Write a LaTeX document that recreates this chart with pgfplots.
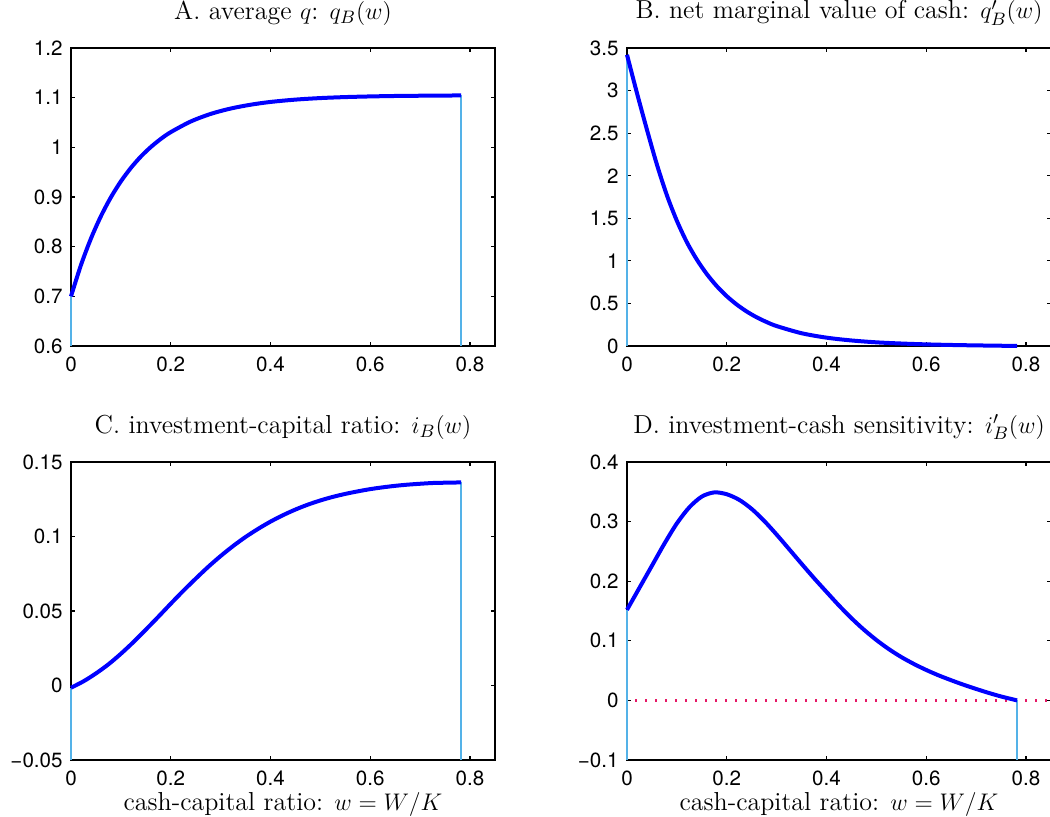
\documentclass[border=0pt]{standalone}
\usepackage{fontspec}
\usepackage{pgfplots}
\pgfplotsset{compat=1.18}
\newfontfamily\hv{TeX Gyre Heros}
\definecolor{mblue}{rgb}{0,0,1}
\definecolor{lblue}{rgb}{0.33,0.70,0.91}
\definecolor{mred}{rgb}{0.90,0.10,0.40}
\pgfplotsset{
  panel/.style={
    scale only axis, width=212pt, height=149pt,
    xmin=0, xmax=0.85,
    xtick={0,0.2,0.4,0.6,0.8}, xticklabels={0,0.2,0.4,0.6,0.8},
    tick align=inside, tick pos=both, major tick length=2.2pt,
    axis line style={line width=0.8pt},
    every tick/.style={black, line width=0.6pt},
    clip=false,
    tick label style={font=\hv\fontsize{10.3}{12}\selectfont, inner sep=0pt},
    xticklabel style={anchor=north, yshift=-5pt},
    yticklabel style={anchor=east, xshift=-4pt},
    title style={at={(axis description cs:0.5,1)}, anchor=base, yshift=8.5pt, inner sep=0pt, font=\fontsize{13}{15}\selectfont},
    xlabel style={at={(axis description cs:0.5,0)}, anchor=base, yshift=-25pt, inner sep=0pt, font=\fontsize{13}{15}\selectfont},
  },
  cur/.style={mblue, line width=2pt, smooth, no marks},
  vln/.style={lblue, line width=1pt, no marks},
}
\begin{document}
\begin{tikzpicture}
\useasboundingbox (0,0) rectangle (525pt,-408.5pt);
% A
\begin{axis}[panel, at={(35.5pt,-173pt)}, anchor=south west,
  ymin=0.6, ymax=1.2, ytick={0.6,0.7,0.8,0.9,1,1.1,1.2},
  yticklabels={0.6,0.7,0.8,0.9,1,1.1,1.2},
  title={A. average $q$: $q_B(w)$}]
\addplot[vln] coordinates {(0,0.6) (0,0.7)};
\addplot[vln] coordinates {(0.782,0.6) (0.782,1.1045)};
\addplot[cur] coordinates {
(0.00,0.7000) (0.02,0.7631) (0.04,0.8164) (0.06,0.8614) (0.08,0.8994)
(0.10,0.9315) (0.12,0.9585) (0.14,0.9814) (0.16,1.0006) (0.18,1.0169)
(0.20,1.0306) (0.24,1.0520) (0.28,1.0673) (0.32,1.0781) (0.36,1.0858)
(0.40,1.0914) (0.45,1.0961) (0.50,1.0992) (0.55,1.1012) (0.60,1.1025)
(0.65,1.1034) (0.70,1.1039) (0.782,1.1045)};
\end{axis}
% B
\begin{axis}[panel, at={(313.5pt,-173pt)}, anchor=south west,
  ymin=0, ymax=3.5, ytick={0,0.5,1,1.5,2,2.5,3,3.5},
  yticklabels={0,0.5,1,1.5,2,2.5,3,3.5},
  title={B. net marginal value of cash: $q_B'(w)$}]
\addplot[vln] coordinates {(0,0) (0,3.42)};
\addplot[cur] coordinates {
(0.00,3.42) (0.02,2.97) (0.04,2.54) (0.06,2.13) (0.08,1.77) (0.10,1.47)
(0.12,1.219) (0.14,1.015) (0.16,0.845) (0.18,0.703) (0.20,0.585) (0.22,0.487)
(0.24,0.405) (0.26,0.337) (0.28,0.281) (0.30,0.234) (0.35,0.150) (0.40,0.098)
(0.45,0.065) (0.50,0.043) (0.55,0.029) (0.60,0.019) (0.65,0.012) (0.70,0.007)
(0.75,0.003) (0.782,0.0)};
\end{axis}
% C
\begin{axis}[panel, at={(35.5pt,-380pt)}, anchor=south west,
  ymin=-0.05, ymax=0.15, ytick={-0.05,0,0.05,0.1,0.15},
  yticklabels={−0.05,0,0.05,0.1,0.15},
  title={C. investment-capital ratio: $i_B(w)$},
  xlabel={cash-capital ratio: $w = W/K$}]
\addplot[vln] coordinates {(0,-0.05) (0,-0.0015)};
\addplot[vln] coordinates {(0.782,-0.05) (0.782,0.1363)};
\addplot[cur] coordinates {
(0.000,-0.0015) (0.025,0.0028) (0.050,0.0081) (0.075,0.0142) (0.100,0.0213)
(0.125,0.0291) (0.150,0.0375) (0.175,0.0461) (0.200,0.0549) (0.225,0.0635)
(0.250,0.0717) (0.275,0.0796) (0.300,0.0869) (0.325,0.0936) (0.350,0.0997)
(0.375,0.1051) (0.400,0.1100) (0.425,0.1143) (0.450,0.1181) (0.475,0.1214)
(0.500,0.1242) (0.525,0.1266) (0.550,0.1286) (0.575,0.1303) (0.600,0.1318)
(0.625,0.1330) (0.650,0.1340) (0.675,0.1348) (0.700,0.1354) (0.725,0.1359)
(0.750,0.1361) (0.782,0.1363)};
\end{axis}
% D
\begin{axis}[panel, at={(313.5pt,-380pt)}, anchor=south west,
  ymin=-0.1, ymax=0.4, ytick={-0.1,0,0.1,0.2,0.3,0.4},
  yticklabels={−0.1,0,0.1,0.2,0.3,0.4},
  title={D. investment-cash sensitivity: $i_B'(w)$},
  xlabel={cash-capital ratio: $w = W/K$}]
\addplot[mred, line width=1.6pt, dash pattern=on 1pt off 4pt, dash phase=-9pt, no marks] coordinates {(0,0) (0.85,0)};
\addplot[vln] coordinates {(0,-0.1) (0,0.152)};
\addplot[vln] coordinates {(0.782,-0.1) (0.782,0)};
\addplot[cur] coordinates {
(0.000,0.152) (0.025,0.189) (0.050,0.226) (0.075,0.263) (0.100,0.297)
(0.125,0.324) (0.150,0.342) (0.175,0.349) (0.200,0.3459) (0.225,0.3365)
(0.250,0.3212) (0.275,0.3012) (0.300,0.2782) (0.325,0.2538) (0.350,0.2292)
(0.375,0.2051) (0.400,0.1820) (0.425,0.1592) (0.450,0.1379) (0.475,0.1186)
(0.500,0.1013) (0.525,0.0860) (0.550,0.0727) (0.575,0.0612) (0.600,0.0510)
(0.625,0.0419) (0.650,0.0338) (0.675,0.0262) (0.700,0.0192) (0.725,0.0126)
(0.750,0.0066) (0.782,0.0000)};
\end{axis}
\end{tikzpicture}
\end{document}
